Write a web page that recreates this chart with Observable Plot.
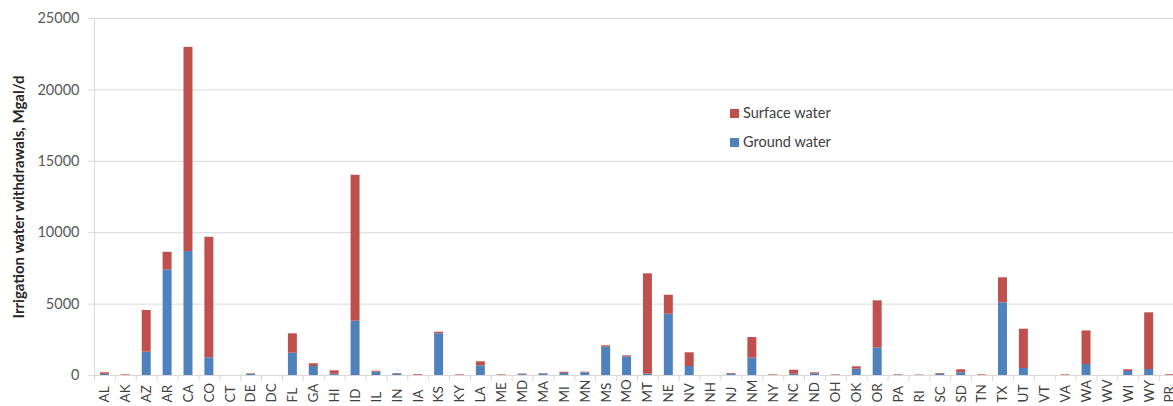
<!DOCTYPE html>
<html>
<head>
<meta charset="utf-8">
<script src="https://cdn.jsdelivr.net/npm/d3@7"></script>
<script src="https://cdn.jsdelivr.net/npm/@observablehq/plot@0.6"></script>
<style>
html, body { margin: 0; padding: 0; background: #fff; }
#wrap { position: relative; width: 1173px; height: 406px; overflow: hidden; font-family: Lato, "Open Sans", sans-serif; }
#legend { position: absolute; left: 730px; top: 103px; font-size: 14.5px; color: #404040; line-height: 20px; }
#legend .item { display: flex; align-items: center; height: 20px; margin-bottom: 9px; }
#legend .sw { width: 9px; height: 9px; margin-right: 4px; display: inline-block; }
g[aria-label="y-axis label"] text { font-weight: bold; fill: #262626; font-size: 15px; }
</style>
</head>
<body>
<div id="wrap"></div>
<script>
const states = ["AL","AK","AZ","AR","CA","CO","CT","DE","DC","FL","GA","HI","ID","IL","IN","IA","KS","KY","LA","ME","MD","MA","MI","MN","MS","MO","MT","NE","NV","NH","NJ","NM","NY","NC","ND","OH","OK","OR","PA","RI","SC","SD","TN","TX","UT","VT","VA","WA","WV","WI","WY","PR"];
const groundWater = [80,5,1630,7400,8680,1240,0,70,0,1560,630,90,3800,230,100,20,2920,10,680,5,60,100,150,190,1980,1310,90,4290,630,0,100,1220,10,90,120,10,440,1940,10,5,90,190,10,5090,490,0,10,770,0,280,420,5];
const surfaceWater = [110,45,2920,1230,14300,8440,0,40,0,1360,190,240,10220,70,40,50,110,40,280,40,40,30,80,40,100,70,7030,1330,960,0,40,1440,40,280,70,40,170,3290,40,30,50,210,40,1750,2750,0,40,2350,0,120,3970,50];
const seriesNames = ["Ground water", "Surface water"];
const seriesColors = ["#4F81BD", "#C0504D"];
const yTicks = [0, 5000, 10000, 15000, 20000, 25000];
const yLabel = "Irrigation water withdrawals, Mgal/d";

const rows = [];
states.forEach((s, i) => rows.push({state: s, type: seriesNames[0], value: groundWater[i]}));
states.forEach((s, i) => rows.push({state: s, type: seriesNames[1], value: surfaceWater[i]}));

const xRange = [94, 1180];
const step = (xRange[1] - xRange[0]) / states.length;

const chart = Plot.plot({
  width: 1173,
  height: 406,
  marginTop: 18,
  marginBottom: 31,
  marginLeft: 94,
  marginRight: 0,
  style: {fontFamily: "Lato, 'Open Sans', sans-serif", fontSize: "14.5px", color: "#595959", background: "white", overflow: "visible"},
  x: {domain: states, range: xRange, paddingInner: 0.57, paddingOuter: 0.285, label: null, axis: null},
  y: {domain: [0, 25000], label: null},
  color: {domain: seriesNames, range: seriesColors},
  marks: [
    Plot.gridY(yTicks, {stroke: "#d9d9d9", strokeOpacity: 1}),
    Plot.frame({anchor: "left", stroke: "#d9d9d9"}),
    Plot.ruleX(states, {x: d => d, y1: 0, y2: -420, dx: -step / 2, stroke: "#d9d9d9"}),
    Plot.barY(rows, {x: "state", y: "value", fill: "type"}),
    Plot.axisY(yTicks, {tickSize: 6, tickPadding: 9, tickFormat: d => String(d), stroke: "#d9d9d9", fill: "#595959",
      label: yLabel, labelAnchor: "center", labelArrow: "none", labelOffset: 81}),
    Plot.text(states, {x: d => d, y: 0, text: d => d, rotate: -90, textAnchor: "start", dy: 27, fill: "#404040", fontSize: 13.5})
  ]
});
document.getElementById("wrap").appendChild(chart);

const legend = document.createElement("div");
legend.id = "legend";
[1, 0].forEach(k => {
  const item = document.createElement("div");
  item.className = "item";
  const sw = document.createElement("span");
  sw.className = "sw";
  sw.style.background = seriesColors[k];
  item.appendChild(sw);
  item.appendChild(document.createTextNode(seriesNames[k]));
  legend.appendChild(item);
});
document.getElementById("wrap").appendChild(legend);
</script>
</body>
</html>
